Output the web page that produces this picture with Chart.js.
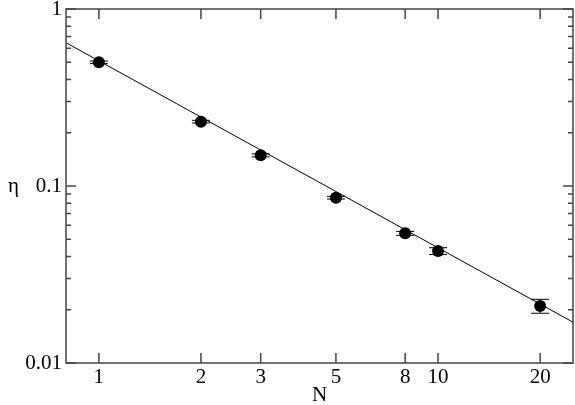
<!DOCTYPE html>
<html>
<head>
<meta charset="utf-8">
<script src="https://cdn.jsdelivr.net/npm/chart.js@4/dist/chart.umd.min.js"></script>
<style>
  body { margin: 0; background: #fff; }
  canvas { display: block; }
</style>
</head>
<body>
<canvas id="etaChart" width="575" height="405"></canvas>
<script>
// Datos
const nValues = [1, 2, 3, 5, 8, 10, 20];
const etaValues = [0.500, 0.231, 0.149, 0.0859, 0.0540, 0.0429, 0.0210];
const etaErrors = [0.008, 0.004, 0.003, 0.0015, 0.0014, 0.0019, 0.0019];

// Recta del ajuste (extremos)
const fitN = [0.8, 25];
const fitEta = [0.645, 0.017];

// Marcas de los ejes
const xTicks = [1, 2, 3, 5, 8, 10, 20];
const yDecades = [0.01, 0.1, 1];
const yDecadeLabels = ['0.01', '0.1', '1'];

const serif = "'Liberation Serif', 'Times New Roman', serif";

function yTickList() {
    const list = [];
    for (let i = 0; i < yDecades.length - 1; i++) {
        for (let m = 1; m < 10; m++) {
            list.push(Number((yDecades[i] * m).toPrecision(6)));
        }
    }
    list.push(yDecades[yDecades.length - 1]);
    return list;
}

// Barras de error, marco y marcas hacia dentro
const framePlugin = {
    id: 'framePlugin',
    beforeDatasetsDraw(chart) {
        const ctx = chart.ctx;
        const xs = chart.scales.x, ys = chart.scales.y;
        ctx.save();
        ctx.strokeStyle = '#000';
        ctx.lineWidth = 1;
        nValues.forEach((n, i) => {
            const px = xs.getPixelForValue(n);
            const top = ys.getPixelForValue(etaValues[i] + etaErrors[i]);
            const bot = ys.getPixelForValue(etaValues[i] - etaErrors[i]);
            ctx.beginPath();
            ctx.moveTo(px, top); ctx.lineTo(px, bot);
            ctx.moveTo(px - 9, top); ctx.lineTo(px + 9, top);
            ctx.moveTo(px - 9, bot); ctx.lineTo(px + 9, bot);
            ctx.stroke();
        });
        ctx.restore();
    },
    afterDraw(chart) {
        const ctx = chart.ctx;
        const a = chart.chartArea;
        const xs = chart.scales.x, ys = chart.scales.y;
        ctx.save();
        ctx.strokeStyle = '#444';
        ctx.lineWidth = 1.5;
        ctx.strokeRect(a.left, a.top, a.right - a.left, a.bottom - a.top);

        ctx.beginPath();
        xTicks.forEach(v => {
            const px = xs.getPixelForValue(v);
            ctx.moveTo(px, a.bottom); ctx.lineTo(px, a.bottom - 10);
            ctx.moveTo(px, a.top); ctx.lineTo(px, a.top + 10);
        });
        ys.ticks.forEach(t => {
            const py = ys.getPixelForValue(t.value);
            const len = yDecades.includes(t.value) ? 10 : 5;
            ctx.moveTo(a.left, py); ctx.lineTo(a.left + len, py);
            ctx.moveTo(a.right, py); ctx.lineTo(a.right - len, py);
        });
        ctx.stroke();

        // Título del eje y (sin rotar)
        ctx.fillStyle = '#000';
        ctx.font = '21px ' + serif;
        ctx.textAlign = 'center';
        ctx.textBaseline = 'alphabetic';
        ctx.fillText('η', 13.5, (a.top + a.bottom) / 2 + 6);
        ctx.restore();
    }
};

const ctx = document.getElementById('etaChart').getContext('2d');
const etaChart = new Chart(ctx, {
    type: 'scatter',
    data: {
        datasets: [{
            label: 'ajuste',
            data: fitN.map((n, i) => ({ x: n, y: fitEta[i] })),
            showLine: true,
            pointRadius: 0,
            borderColor: '#000',
            borderWidth: 1,
            fill: false
        }, {
            label: 'η',
            data: nValues.map((n, i) => ({ x: n, y: etaValues[i] })),
            pointRadius: 6,
            pointHoverRadius: 6,
            backgroundColor: '#000',
            borderColor: '#000',
            borderWidth: 0
        }]
    },
    options: {
        responsive: false,
        animation: false,
        layout: { autoPadding: false, padding: { top: 0, right: 2, left: 0, bottom: 0 } },
        plugins: {
            legend: { display: false },
            tooltip: { enabled: false }
        },
        scales: {
            x: {
                type: 'logarithmic',
                min: 0.8,
                max: 25,
                afterBuildTicks: scale => { scale.ticks = xTicks.map(v => ({ value: v })); },
                afterFit: scale => {
                    scale.height = 42;
                    scale.paddingLeft = 0;
                    scale.paddingRight = 0;
                },
                border: { display: false },
                grid: { drawOnChartArea: false, drawTicks: false },
                ticks: {
                    autoSkip: false,
                    maxRotation: 0,
                    padding: 2,
                    color: '#000',
                    font: { family: serif, size: 21 },
                    callback: value => String(value)
                },
                title: {
                    display: true,
                    text: 'N',
                    color: '#000',
                    padding: 0,
                    font: { family: serif, size: 21, lineHeight: 0.9 }
                }
            },
            y: {
                type: 'logarithmic',
                min: 0.01,
                max: 1,
                afterBuildTicks: scale => { scale.ticks = yTickList().map(v => ({ value: v })); },
                afterFit: scale => {
                    scale.width = 66;
                    scale.paddingTop = 9;
                    scale.paddingBottom = 0;
                },
                border: { display: false },
                grid: { drawOnChartArea: false, drawTicks: false },
                ticks: {
                    autoSkip: false,
                    padding: 4,
                    color: '#000',
                    font: { family: serif, size: 21 },
                    callback: value => {
                        const k = yDecades.indexOf(value);
                        return k >= 0 ? yDecadeLabels[k] : '';
                    }
                }
            }
        }
    },
    plugins: [framePlugin]
});
</script>
</body>
</html>
